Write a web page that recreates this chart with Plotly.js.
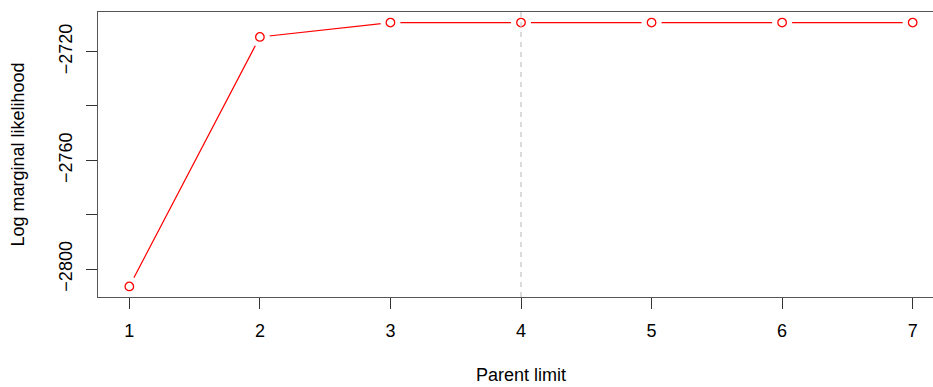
<!DOCTYPE html>
<html>
<head>
<meta charset="utf-8">
<script src="https://cdn.plot.ly/plotly-3.0.1.min.js"></script>
<style>
html,body{margin:0;padding:0;overflow:hidden;background:#fff;}
#chart{width:946px;height:387px;}
</style>
</head>
<body>
<div id="chart"></div>
<script>
const parentLimit = [1, 2, 3, 4, 5, 6, 7];
const logMarginalLikelihood = [-2806.4, -2714.6, -2709.3, -2709.3, -2709.3, -2709.3, -2709.3];
const yTickVals = [-2800, -2780, -2760, -2740, -2720];
const yTickText = ['\u22122800', '', '\u22122760', '', '\u22122720'];
const xTickVals = [1, 2, 3, 4, 5, 6, 7];
const selectedLimit = 4;

const font = {family: 'Liberation Sans, Arial, sans-serif', size: 18, color: '#000'};

const traces = [
  {x: parentLimit, y: logMarginalLikelihood, mode: 'lines', line: {color: '#ff0000', width: 1.2}, hoverinfo: 'skip', showlegend: false},
  {x: parentLimit, y: logMarginalLikelihood, mode: 'markers', marker: {color: '#ffffff', size: 20, line: {width: 0}}, hoverinfo: 'skip', showlegend: false},
  {x: parentLimit, y: logMarginalLikelihood, mode: 'markers', marker: {symbol: 'circle-open', color: '#ff0000', size: 8.5, line: {color: '#ff0000', width: 1.3}}, showlegend: false}
];

const ymin = Math.min(...logMarginalLikelihood), ymax = Math.max(...logMarginalLikelihood);
const yext = (ymax - ymin) * 0.04;
const xmin = Math.min(...parentLimit), xmax = Math.max(...parentLimit);
const xext = (xmax - xmin) * 0.04;

const layout = {
  width: 946, height: 387,
  margin: {l: 97.6, r: 1.6, t: 12, b: 90.3, pad: 0},
  paper_bgcolor: '#fff', plot_bgcolor: '#fff',
  font: font,
  showlegend: false,
  xaxis: {
    range: [xmin - xext, xmax + xext],
    tickvals: xTickVals, ticktext: xTickVals.map(String),
    ticks: 'outside', ticklen: 11, tickwidth: 1, tickcolor: '#333',
    showgrid: false, zeroline: false,
    showline: true, mirror: true, linecolor: '#555', linewidth: 1.4,
    tickfont: font, ticklabelstandoff: 6,
    title: {text: 'Parent limit', font: font, standoff: 28}
  },
  yaxis: {
    range: [ymin - yext, ymax + yext],
    tickvals: yTickVals, ticktext: yTickText,
    ticks: 'outside', ticklen: 11, tickwidth: 1, tickcolor: '#333',
    tickangle: -90,
    showgrid: false, zeroline: false,
    showline: true, mirror: true, linecolor: '#555', linewidth: 1.4,
    tickfont: font, ticklabelstandoff: 6,
    title: {text: 'Log marginal likelihood', font: font, standoff: 27}
  },
  shapes: [{
    type: 'line', xref: 'x', yref: 'paper', x0: selectedLimit, x1: selectedLimit, y0: 0, y1: 1,
    line: {color: '#c4c4c4', width: 1.2, dash: '5px,5px'}, layer: 'above'
  }]
};

Plotly.newPlot('chart', traces, layout, {staticPlot: true, displayModeBar: false});
</script>
</body>
</html>
